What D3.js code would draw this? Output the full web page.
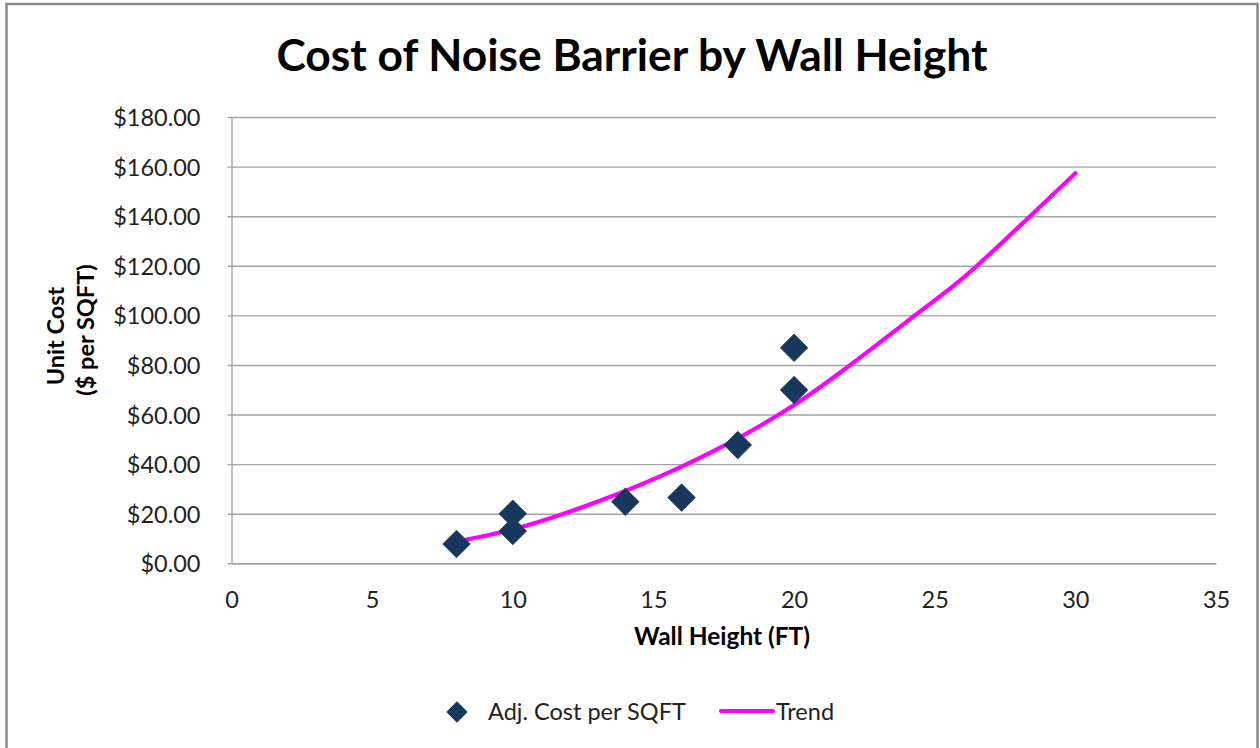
<!DOCTYPE html>
<html>
<head>
<meta charset="utf-8">
<script src="https://cdn.jsdelivr.net/npm/d3@7"></script>
<style>
  html, body { margin: 0; padding: 0; background: #ffffff; }
  svg { display: block; }
  text { font-family: Lato, "Open Sans", "Liberation Sans", sans-serif; fill: #222; }
</style>
</head>
<body>
<svg id="chart" width="1260" height="748"></svg>
<script>
// Observed unit costs by wall height
const wallHeights = [8, 10, 10, 14, 16, 18, 20, 20];
const unitCosts   = [7.8, 20.0, 13.0, 24.8, 26.5, 47.7, 69.9, 86.9];

// Fitted trend curve
const trendHeights = [8, 10, 13, 16, 18, 20, 22, 24, 26, 28, 30];
const trendCosts   = [8.8, 13.7, 24.8, 39.0, 50.4, 63.8, 80.0, 97.4, 115.0, 135.8, 157.3];

// Axis ticks
const xTicks = [0, 5, 10, 15, 20, 25, 30, 35];
const yTicks = [0, 20, 40, 60, 80, 100, 120, 140, 160, 180];

const titleText  = "Cost of Noise Barrier by Wall Height";
const xTitleText = "Wall Height (FT)";
const yTitleLines = ["Unit Cost", "($ per SQFT)"];
const seriesNames = ["Adj. Cost per SQFT", "Trend"];

const svg = d3.select("#chart");
const plotLeft = 231.5, plotRight = 1216, plotTop = 117, plotBottom = 563.3;
const gridColor = "#a3a3a3";
const markerColor = "#17375e";
const trendColor = "#ff00ff";
const fontStack = "Lato, 'Open Sans', sans-serif";

const x = d3.scaleLinear().domain([0, 35]).range([plotLeft, plotRight]);
const y = d3.scaleLinear().domain([0, 180]).range([plotBottom, plotTop]);

// outer frame
svg.append("rect")
  .attr("x", 6.5).attr("y", 4).attr("width", 1251).attr("height", 780)
  .attr("fill", "#fff").attr("stroke", "#8a8a8a").attr("stroke-width", 2.5);

// title
svg.append("text")
  .attr("x", 632).attr("y", 70.5)
  .attr("text-anchor", "middle")
  .attr("font-size", 43).attr("font-weight", 700).style("fill", "#000")
  .attr("textLength", 711).attr("lengthAdjust", "spacingAndGlyphs")
  .text(titleText);

// horizontal gridlines with short outward ticks
const grid = svg.append("g").attr("transform", `translate(${plotLeft - 4},0)`)
  .call(d3.axisRight(y).tickValues(yTicks).tickSize(plotRight - plotLeft + 4).tickFormat(""));
grid.select(".domain").remove();
grid.selectAll(".tick line").attr("stroke", gridColor).attr("stroke-width", 1.4);

// y tick labels
const yAxis = svg.append("g").attr("transform", `translate(${plotLeft},0)`)
  .call(d3.axisLeft(y).tickValues(yTicks).tickSize(0).tickPadding(31)
    .tickFormat(d => "$" + d3.format(".2f")(d)));
yAxis.select(".domain").attr("stroke", gridColor).attr("stroke-width", 1.4);
yAxis.selectAll(".tick text")
  .attr("font-family", fontStack)
  .attr("font-size", 23.5).style("fill", "#222").attr("dy", "0.36em");

// x axis
const xAxis = svg.append("g").attr("transform", `translate(0,${plotBottom})`)
  .call(d3.axisBottom(x).tickValues(xTicks).tickSize(0).tickPadding(28));
xAxis.select(".domain").attr("stroke", gridColor).attr("stroke-width", 1.4);
xAxis.selectAll(".tick text")
  .attr("font-family", fontStack)
  .attr("font-size", 23.5).style("fill", "#222");

// axis titles
svg.append("text")
  .attr("x", 722).attr("y", 645)
  .attr("text-anchor", "middle")
  .attr("font-size", 24).attr("font-weight", 700).style("fill", "#000")
  .attr("textLength", 176).attr("lengthAdjust", "spacingAndGlyphs")
  .text(xTitleText);

const yTitle = svg.append("text")
  .attr("transform", "translate(0,333) rotate(-90)")
  .attr("text-anchor", "middle")
  .attr("font-size", 23.5).attr("font-weight", 700).style("fill", "#000");
yTitle.selectAll("tspan").data(yTitleLines).join("tspan")
  .attr("x", (d, i) => i === 0 ? -3 : 3)
  .attr("y", (d, i) => i === 0 ? 64 : 94)
  .text(d => d);

// trend line
const line = d3.line()
  .x(d => x(d[0])).y(d => y(d[1]))
  .curve(d3.curveMonotoneX);
svg.append("path")
  .datum(d3.zip(trendHeights, trendCosts))
  .attr("d", line)
  .attr("fill", "none")
  .attr("stroke", trendColor)
  .attr("stroke-width", 4.2)
  .attr("stroke-linejoin", "round")
  .attr("stroke-linecap", "round");

// observed points as diamonds
const diamond = d3.symbol().type(d3.symbolDiamond2).size(2 * 11 * 11 * 2);
svg.append("g").selectAll("path")
  .data(d3.zip(wallHeights, unitCosts))
  .join("path")
  .attr("transform", d => `translate(${x(d[0])},${y(d[1])})`)
  .attr("d", diamond)
  .attr("fill", markerColor)
  .attr("stroke", "#2b3a4a")
  .attr("stroke-width", 0.8);

// legend
const legend = svg.append("g");
legend.append("path")
  .attr("transform", "translate(457,712)")
  .attr("d", d3.symbol().type(d3.symbolDiamond2).size(2 * 8.5 * 8.5 * 2))
  .attr("fill", markerColor);
legend.append("text")
  .attr("x", 488).attr("y", 719.5)
  .attr("font-size", 23.5)
  .text(seriesNames[0]);
legend.append("line")
  .attr("x1", 721).attr("x2", 773).attr("y1", 711).attr("y2", 711)
  .attr("stroke", trendColor).attr("stroke-width", 4.2).attr("stroke-linecap", "round");
legend.append("text")
  .attr("x", 776).attr("y", 719.5)
  .attr("font-size", 23.5)
  .text(seriesNames[1]);
</script>
</body>
</html>
